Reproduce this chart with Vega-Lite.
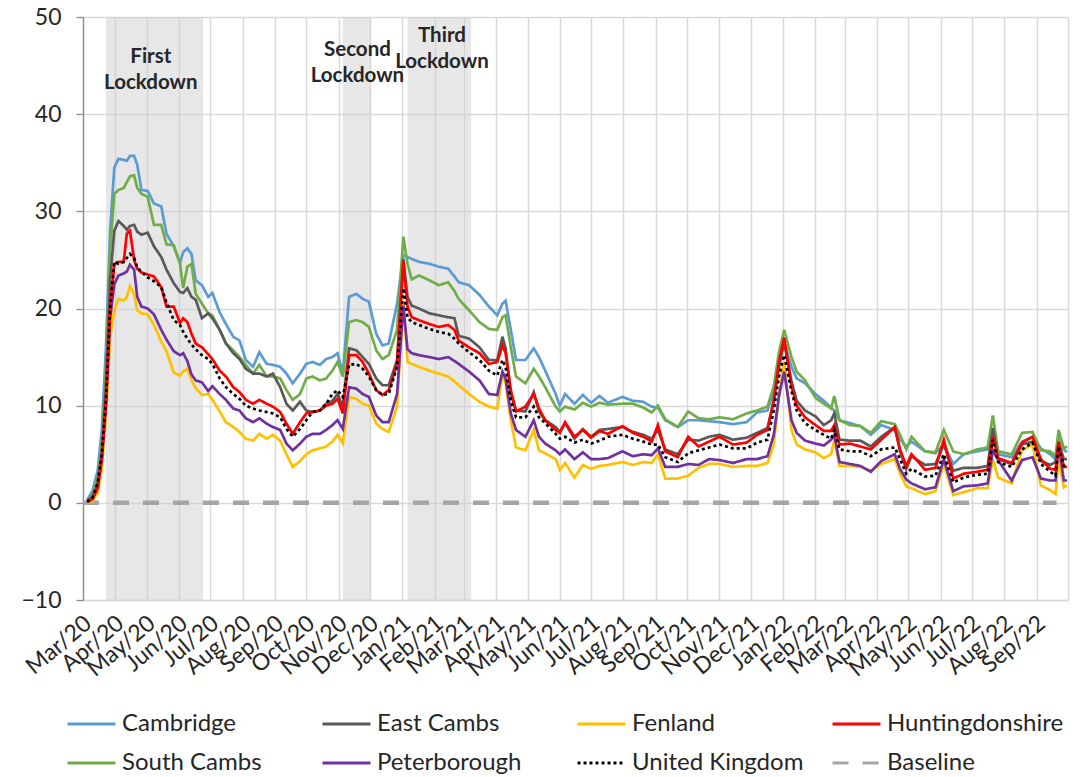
{
  "$schema": "https://vega.github.io/schema/vega-lite/v6.json",
  "width": 985,
  "height": 583,
  "autosize": {"type": "none"},
  "padding": {"left": 83, "top": 17, "right": 13, "bottom": 177},
  "background": "white",
  "config": {"view": {"stroke": null}, "font": "Lato"},
  "datasets": {
    "lockdowns": [
      {"start": "2020-03-23", "end": "2020-06-24"},
      {"start": "2020-11-05", "end": "2020-12-02"},
      {"start": "2021-01-06", "end": "2021-03-08"}
    ],
    "notes": [
      {"date": "2020-05-05", "v": 45.9, "label": "First\nLockdown"},
      {"date": "2020-11-19", "v": 46.6, "label": "Second\nLockdown"},
      {"date": "2021-02-08", "v": 48.0, "label": "Third\nLockdown"}
    ],
    "baseline": [
      {"date": "2020-03-01", "series": "Baseline", "value": 0},
      {"date": "2022-09-20", "series": "Baseline", "value": 0}
    ],
    "series": [
      {"date":"2020-03-05","Cambridge":0.3,"South Cambs":0.2,"East Cambs":0.2,"Huntingdonshire":0.1,"United Kingdom":0.1,"Peterborough":0.1,"Fenland":0},
      {"date":"2020-03-10","Cambridge":1.2,"South Cambs":0.8,"East Cambs":0.6,"Huntingdonshire":0.4,"United Kingdom":0.5,"Peterborough":0.4,"Fenland":0.2},
      {"date":"2020-03-15","Cambridge":3.3,"South Cambs":2.5,"East Cambs":2,"Huntingdonshire":1.5,"United Kingdom":2,"Peterborough":1.5,"Fenland":1},
      {"date":"2020-03-19","Cambridge":7.5,"South Cambs":6,"East Cambs":5,"Huntingdonshire":4.5,"United Kingdom":5,"Peterborough":4.5,"Fenland":3.5},
      {"date":"2020-03-23","Cambridge":16,"South Cambs":14,"East Cambs":12,"Huntingdonshire":10.5,"United Kingdom":10.5,"Peterborough":10,"Fenland":9},
      {"date":"2020-03-27","Cambridge":28,"South Cambs":26,"East Cambs":23,"Huntingdonshire":20,"United Kingdom":20,"Peterborough":19,"Fenland":17},
      {"date":"2020-03-31","Cambridge":34.5,"South Cambs":31.8,"East Cambs":28,"Huntingdonshire":24.6,"United Kingdom":24.8,"Peterborough":22.5,"Fenland":19.8},
      {"date":"2020-04-04","Cambridge":35.4,"South Cambs":32.2,"East Cambs":29,"Huntingdonshire":24.8,"United Kingdom":24.6,"Peterborough":23.4,"Fenland":21},
      {"date":"2020-04-09","Cambridge":35.3,"South Cambs":32.4,"East Cambs":28.5,"Huntingdonshire":24.8,"United Kingdom":24.8,"Peterborough":23.6,"Fenland":20.8},
      {"date":"2020-04-12","Cambridge":35.2,"South Cambs":33,"East Cambs":28.1,"Huntingdonshire":27.7,"United Kingdom":25.2,"Peterborough":23.8,"Fenland":21.2},
      {"date":"2020-04-15","Cambridge":35.7,"South Cambs":33.6,"East Cambs":28.5,"Huntingdonshire":28,"United Kingdom":25.6,"Peterborough":24.5,"Fenland":22.3},
      {"date":"2020-04-19","Cambridge":35.7,"South Cambs":33.7,"East Cambs":28.6,"Huntingdonshire":25,"United Kingdom":25.2,"Peterborough":24,"Fenland":21.5},
      {"date":"2020-04-22","Cambridge":34.8,"South Cambs":32.4,"East Cambs":27.9,"Huntingdonshire":24.1,"United Kingdom":24.2,"Peterborough":21.2,"Fenland":19.8},
      {"date":"2020-04-26","Cambridge":32.2,"South Cambs":31.8,"East Cambs":27.6,"Huntingdonshire":23.7,"United Kingdom":23.8,"Peterborough":20.2,"Fenland":19.5},
      {"date":"2020-05-02","Cambridge":32.1,"South Cambs":31.5,"East Cambs":27.8,"Huntingdonshire":23.5,"United Kingdom":23.2,"Peterborough":20,"Fenland":19.4},
      {"date":"2020-05-08","Cambridge":30.8,"South Cambs":28.6,"East Cambs":26.4,"Huntingdonshire":23.3,"United Kingdom":22.8,"Peterborough":19.4,"Fenland":18.3},
      {"date":"2020-05-15","Cambridge":30.5,"South Cambs":28.6,"East Cambs":25.3,"Huntingdonshire":22.2,"United Kingdom":22.2,"Peterborough":17.8,"Fenland":16.6},
      {"date":"2020-05-20","Cambridge":27.7,"South Cambs":26.6,"East Cambs":24,"Huntingdonshire":20.2,"United Kingdom":20.6,"Peterborough":16.8,"Fenland":15.6},
      {"date":"2020-05-27","Cambridge":26.4,"South Cambs":26.5,"East Cambs":22.6,"Huntingdonshire":20.2,"United Kingdom":18.8,"Peterborough":15.6,"Fenland":13.4},
      {"date":"2020-06-02","Cambridge":24.7,"South Cambs":24.6,"East Cambs":21.7,"Huntingdonshire":18.5,"United Kingdom":18.3,"Peterborough":15.2,"Fenland":13.1},
      {"date":"2020-06-05","Cambridge":25.8,"South Cambs":22.1,"East Cambs":21.6,"Huntingdonshire":19,"United Kingdom":17.6,"Peterborough":15.4,"Fenland":13.5},
      {"date":"2020-06-09","Cambridge":26.2,"South Cambs":24.3,"East Cambs":22.1,"Huntingdonshire":18.6,"United Kingdom":16.9,"Peterborough":14.6,"Fenland":13.8},
      {"date":"2020-06-13","Cambridge":25.6,"South Cambs":24.6,"East Cambs":21.2,"Huntingdonshire":17.4,"United Kingdom":16.3,"Peterborough":13.2,"Fenland":12.6},
      {"date":"2020-06-17","Cambridge":22.9,"South Cambs":21.5,"East Cambs":20.9,"Huntingdonshire":16.4,"United Kingdom":15.8,"Peterborough":12.6,"Fenland":11.8},
      {"date":"2020-06-23","Cambridge":22.4,"South Cambs":20.5,"East Cambs":19,"Huntingdonshire":16,"United Kingdom":15.2,"Peterborough":12.4,"Fenland":11.1},
      {"date":"2020-06-29","Cambridge":21.2,"South Cambs":19.5,"East Cambs":19.5,"Huntingdonshire":15.3,"United Kingdom":14.8,"Peterborough":11.5,"Fenland":11.2},
      {"date":"2020-07-03","Cambridge":21.6,"South Cambs":19.3,"East Cambs":19,"Huntingdonshire":14.8,"United Kingdom":14.3,"Peterborough":12,"Fenland":10.6},
      {"date":"2020-07-10","Cambridge":19.6,"South Cambs":17.8,"East Cambs":17.8,"Huntingdonshire":13.6,"United Kingdom":12.8,"Peterborough":11.2,"Fenland":9.4},
      {"date":"2020-07-16","Cambridge":18.4,"South Cambs":16.4,"East Cambs":16.4,"Huntingdonshire":13,"United Kingdom":11.9,"Peterborough":10.6,"Fenland":8.3},
      {"date":"2020-07-23","Cambridge":17.1,"South Cambs":15.7,"East Cambs":15.4,"Huntingdonshire":11.9,"United Kingdom":11.2,"Peterborough":9.7,"Fenland":7.8},
      {"date":"2020-07-29","Cambridge":16.7,"South Cambs":15,"East Cambs":14.8,"Huntingdonshire":11.4,"United Kingdom":10.7,"Peterborough":9.5,"Fenland":7.3},
      {"date":"2020-08-04","Cambridge":14.7,"South Cambs":14.2,"East Cambs":13.8,"Huntingdonshire":10.6,"United Kingdom":10,"Peterborough":8.7,"Fenland":6.6},
      {"date":"2020-08-11","Cambridge":14,"South Cambs":13.3,"East Cambs":13.3,"Huntingdonshire":10.2,"United Kingdom":9.7,"Peterborough":8.3,"Fenland":6.4},
      {"date":"2020-08-17","Cambridge":15.5,"South Cambs":14.2,"East Cambs":13.3,"Huntingdonshire":10.6,"United Kingdom":9.5,"Peterborough":8.7,"Fenland":7.1},
      {"date":"2020-08-24","Cambridge":14.3,"South Cambs":13,"East Cambs":13,"Huntingdonshire":10.2,"United Kingdom":9.35,"Peterborough":8.15,"Fenland":6.6},
      {"date":"2020-08-30","Cambridge":14.2,"South Cambs":13,"East Cambs":13.3,"Huntingdonshire":9.9,"United Kingdom":9.2,"Peterborough":7.8,"Fenland":7},
      {"date":"2020-09-06","Cambridge":14,"South Cambs":12.8,"East Cambs":11.9,"Huntingdonshire":9.35,"United Kingdom":8.8,"Peterborough":7.5,"Fenland":6.4},
      {"date":"2020-09-12","Cambridge":13.3,"South Cambs":11.6,"East Cambs":10.2,"Huntingdonshire":8.15,"United Kingdom":7.6,"Peterborough":6.1,"Fenland":5},
      {"date":"2020-09-18","Cambridge":12.3,"South Cambs":10.6,"East Cambs":9.5,"Huntingdonshire":7.1,"United Kingdom":6.8,"Peterborough":5.4,"Fenland":3.7},
      {"date":"2020-09-25","Cambridge":13.3,"South Cambs":11.2,"East Cambs":10.4,"Huntingdonshire":8.3,"United Kingdom":7.6,"Peterborough":6.1,"Fenland":4.3},
      {"date":"2020-10-01","Cambridge":14.3,"South Cambs":12.8,"East Cambs":9.5,"Huntingdonshire":9.2,"United Kingdom":8.5,"Peterborough":6.8,"Fenland":5},
      {"date":"2020-10-07","Cambridge":14.5,"South Cambs":13,"East Cambs":9.35,"Huntingdonshire":9.35,"United Kingdom":9.35,"Peterborough":7.1,"Fenland":5.4},
      {"date":"2020-10-14","Cambridge":14.2,"South Cambs":12.6,"East Cambs":9.5,"Huntingdonshire":9.5,"United Kingdom":9.5,"Peterborough":7.1,"Fenland":5.6},
      {"date":"2020-10-20","Cambridge":14.8,"South Cambs":12.8,"East Cambs":10.2,"Huntingdonshire":10,"United Kingdom":10.2,"Peterborough":7.5,"Fenland":5.8},
      {"date":"2020-10-26","Cambridge":15,"South Cambs":13.6,"East Cambs":10.5,"Huntingdonshire":10.2,"United Kingdom":11.2,"Peterborough":8,"Fenland":6.3},
      {"date":"2020-10-31","Cambridge":15.4,"South Cambs":14.5,"East Cambs":11.2,"Huntingdonshire":10.7,"United Kingdom":11.6,"Peterborough":8.5,"Fenland":7},
      {"date":"2020-11-05","Cambridge":13.3,"South Cambs":13,"East Cambs":9.9,"Huntingdonshire":9.2,"United Kingdom":10.9,"Peterborough":7.6,"Fenland":6.1},
      {"date":"2020-11-11","Cambridge":21.2,"South Cambs":18.6,"East Cambs":15.9,"Huntingdonshire":15.2,"United Kingdom":14.2,"Peterborough":11.9,"Fenland":10.9},
      {"date":"2020-11-18","Cambridge":21.5,"South Cambs":18.8,"East Cambs":15.7,"Huntingdonshire":15.2,"United Kingdom":14.3,"Peterborough":11.75,"Fenland":10.7},
      {"date":"2020-11-24","Cambridge":21,"South Cambs":18.6,"East Cambs":15,"Huntingdonshire":14.5,"United Kingdom":13.8,"Peterborough":11.2,"Fenland":10.2},
      {"date":"2020-11-30","Cambridge":20.7,"South Cambs":18.1,"East Cambs":14.3,"Huntingdonshire":13.3,"United Kingdom":13,"Peterborough":10.9,"Fenland":10},
      {"date":"2020-12-07","Cambridge":17.4,"South Cambs":15.7,"East Cambs":12.8,"Huntingdonshire":11.6,"United Kingdom":11.6,"Peterborough":9,"Fenland":8.15},
      {"date":"2020-12-13","Cambridge":16.2,"South Cambs":14.8,"East Cambs":12.1,"Huntingdonshire":11.1,"United Kingdom":11.1,"Peterborough":8.3,"Fenland":7.6},
      {"date":"2020-12-19","Cambridge":16.4,"South Cambs":15.2,"East Cambs":12.1,"Huntingdonshire":11.6,"United Kingdom":11.2,"Peterborough":8.3,"Fenland":7.3},
      {"date":"2020-12-27","Cambridge":20.5,"South Cambs":17.8,"East Cambs":14.7,"Huntingdonshire":14.3,"United Kingdom":14,"Peterborough":11.2,"Fenland":9.9},
      {"date":"2021-01-02","Cambridge":25.5,"South Cambs":27.4,"East Cambs":25.1,"Huntingdonshire":24.8,"United Kingdom":22.1,"Peterborough":20.3,"Fenland":20.8},
      {"date":"2021-01-06","Cambridge":25.3,"South Cambs":24.6,"East Cambs":21.2,"Huntingdonshire":20.2,"United Kingdom":19.1,"Peterborough":15.8,"Fenland":14.5},
      {"date":"2021-01-10","Cambridge":25.1,"South Cambs":23,"East Cambs":20.3,"Huntingdonshire":19.1,"United Kingdom":18.6,"Peterborough":15.4,"Fenland":14.3},
      {"date":"2021-01-17","Cambridge":24.8,"South Cambs":23.4,"East Cambs":20,"Huntingdonshire":18.8,"United Kingdom":18.3,"Peterborough":15.2,"Fenland":14},
      {"date":"2021-01-27","Cambridge":24.6,"South Cambs":22.9,"East Cambs":19.5,"Huntingdonshire":18.4,"United Kingdom":17.9,"Peterborough":15,"Fenland":13.6},
      {"date":"2021-02-05","Cambridge":24.3,"South Cambs":22.4,"East Cambs":19.3,"Huntingdonshire":18.1,"United Kingdom":17.6,"Peterborough":14.8,"Fenland":13.3},
      {"date":"2021-02-14","Cambridge":24.1,"South Cambs":22.7,"East Cambs":19.1,"Huntingdonshire":18.3,"United Kingdom":17.4,"Peterborough":15,"Fenland":13},
      {"date":"2021-02-20","Cambridge":23.3,"South Cambs":21.8,"East Cambs":19,"Huntingdonshire":17.8,"United Kingdom":16.9,"Peterborough":14.6,"Fenland":12.5},
      {"date":"2021-02-24","Cambridge":22.7,"South Cambs":21,"East Cambs":17.2,"Huntingdonshire":16.7,"United Kingdom":16.4,"Peterborough":14.3,"Fenland":12.1},
      {"date":"2021-03-06","Cambridge":22.4,"South Cambs":19.8,"East Cambs":16.9,"Huntingdonshire":16,"United Kingdom":15.5,"Peterborough":13.5,"Fenland":11.2},
      {"date":"2021-03-16","Cambridge":21.4,"South Cambs":18.6,"East Cambs":16,"Huntingdonshire":15.4,"United Kingdom":14.7,"Peterborough":12.6,"Fenland":10.4},
      {"date":"2021-03-25","Cambridge":20.2,"South Cambs":17.9,"East Cambs":14.7,"Huntingdonshire":14.3,"United Kingdom":13.6,"Peterborough":11.2,"Fenland":9.9},
      {"date":"2021-04-02","Cambridge":19.3,"South Cambs":17.8,"East Cambs":14.7,"Huntingdonshire":14.5,"United Kingdom":13.1,"Peterborough":11.1,"Fenland":9.7},
      {"date":"2021-04-07","Cambridge":20.5,"South Cambs":19.1,"East Cambs":17.1,"Huntingdonshire":16.2,"United Kingdom":14.7,"Peterborough":13.5,"Fenland":13.3},
      {"date":"2021-04-10","Cambridge":20.8,"South Cambs":19.3,"East Cambs":15.9,"Huntingdonshire":15.4,"United Kingdom":14,"Peterborough":12.8,"Fenland":12.3},
      {"date":"2021-04-15","Cambridge":17.8,"South Cambs":16,"East Cambs":11.2,"Huntingdonshire":11.6,"United Kingdom":10.5,"Peterborough":9.2,"Fenland":8.5},
      {"date":"2021-04-20","Cambridge":14.7,"South Cambs":13,"East Cambs":9.5,"Huntingdonshire":9.4,"United Kingdom":8.8,"Peterborough":7.5,"Fenland":5.7},
      {"date":"2021-04-29","Cambridge":14.7,"South Cambs":12.3,"East Cambs":9.4,"Huntingdonshire":9.9,"United Kingdom":8.8,"Peterborough":6.8,"Fenland":5.4},
      {"date":"2021-05-07","Cambridge":15.9,"South Cambs":13.8,"East Cambs":11.4,"Huntingdonshire":11.2,"United Kingdom":9.9,"Peterborough":8.5,"Fenland":7.5},
      {"date":"2021-05-12","Cambridge":15,"South Cambs":13,"East Cambs":9.4,"Huntingdonshire":9.7,"United Kingdom":8.8,"Peterborough":6.8,"Fenland":5.4},
      {"date":"2021-05-18","Cambridge":13.6,"South Cambs":11.9,"East Cambs":8.5,"Huntingdonshire":8.5,"United Kingdom":8.2,"Peterborough":6.1,"Fenland":5.1},
      {"date":"2021-05-28","Cambridge":11.2,"South Cambs":9.9,"East Cambs":7.8,"Huntingdonshire":7.5,"United Kingdom":7.1,"Peterborough":5.4,"Fenland":4.5},
      {"date":"2021-06-01","Cambridge":10,"South Cambs":9.4,"East Cambs":7.3,"Huntingdonshire":7.2,"United Kingdom":6.6,"Peterborough":5,"Fenland":3.4},
      {"date":"2021-06-06","Cambridge":11.2,"South Cambs":9.9,"East Cambs":8.2,"Huntingdonshire":8.3,"United Kingdom":6.8,"Peterborough":5.5,"Fenland":4.1},
      {"date":"2021-06-15","Cambridge":10.2,"South Cambs":9.6,"East Cambs":6.6,"Huntingdonshire":6.8,"United Kingdom":6.2,"Peterborough":4.5,"Fenland":2.6},
      {"date":"2021-06-23","Cambridge":11.1,"South Cambs":10.3,"East Cambs":7.6,"Huntingdonshire":7.5,"United Kingdom":6.5,"Peterborough":5.2,"Fenland":3.9},
      {"date":"2021-07-01","Cambridge":10.3,"South Cambs":9.9,"East Cambs":6.8,"Huntingdonshire":6.7,"United Kingdom":6.1,"Peterborough":4.5,"Fenland":3.5},
      {"date":"2021-07-09","Cambridge":11,"South Cambs":10.3,"East Cambs":7.5,"Huntingdonshire":7.4,"United Kingdom":6.4,"Peterborough":4.5,"Fenland":3.8},
      {"date":"2021-07-17","Cambridge":10.3,"South Cambs":10.1,"East Cambs":7.6,"Huntingdonshire":7.1,"United Kingdom":6.8,"Peterborough":4.6,"Fenland":3.9},
      {"date":"2021-07-31","Cambridge":10.9,"South Cambs":10.2,"East Cambs":7.8,"Huntingdonshire":7.9,"United Kingdom":7,"Peterborough":5.3,"Fenland":4.2},
      {"date":"2021-08-10","Cambridge":10.5,"South Cambs":10.2,"East Cambs":7.3,"Huntingdonshire":7.2,"United Kingdom":6.6,"Peterborough":4.8,"Fenland":3.9},
      {"date":"2021-08-20","Cambridge":10.4,"South Cambs":9.8,"East Cambs":7,"Huntingdonshire":6.8,"United Kingdom":6.3,"Peterborough":5,"Fenland":4.2},
      {"date":"2021-08-28","Cambridge":9.9,"South Cambs":9.3,"East Cambs":6.6,"Huntingdonshire":6.3,"United Kingdom":6,"Peterborough":4.9,"Fenland":4.1},
      {"date":"2021-09-03","Cambridge":9.8,"South Cambs":10,"East Cambs":7.5,"Huntingdonshire":8,"United Kingdom":6,"Peterborough":5.6,"Fenland":5},
      {"date":"2021-09-10","Cambridge":8.5,"South Cambs":8.6,"East Cambs":5.5,"Huntingdonshire":5.3,"United Kingdom":4.7,"Peterborough":3.7,"Fenland":2.5},
      {"date":"2021-09-22","Cambridge":7.8,"South Cambs":7.8,"East Cambs":5,"Huntingdonshire":4.7,"United Kingdom":4.2,"Peterborough":3.7,"Fenland":2.5},
      {"date":"2021-10-02","Cambridge":8.5,"South Cambs":9.4,"East Cambs":6.5,"Huntingdonshire":6.8,"United Kingdom":5.1,"Peterborough":4,"Fenland":2.8},
      {"date":"2021-10-12","Cambridge":8.5,"South Cambs":8.7,"East Cambs":6.4,"Huntingdonshire":5.8,"United Kingdom":5.4,"Peterborough":3.9,"Fenland":3.6},
      {"date":"2021-10-22","Cambridge":8.4,"South Cambs":8.6,"East Cambs":6.8,"Huntingdonshire":6.3,"United Kingdom":5.7,"Peterborough":4.5,"Fenland":4},
      {"date":"2021-11-01","Cambridge":8.3,"South Cambs":8.8,"East Cambs":7,"Huntingdonshire":6.8,"United Kingdom":6,"Peterborough":4.4,"Fenland":4},
      {"date":"2021-11-14","Cambridge":8.1,"South Cambs":8.6,"East Cambs":6.5,"Huntingdonshire":6,"United Kingdom":5.6,"Peterborough":4.1,"Fenland":3.7},
      {"date":"2021-11-27","Cambridge":8.3,"South Cambs":9.2,"East Cambs":6.7,"Huntingdonshire":6.2,"United Kingdom":5.6,"Peterborough":4.5,"Fenland":3.8},
      {"date":"2021-12-07","Cambridge":9.3,"South Cambs":9.5,"East Cambs":7.2,"Huntingdonshire":7,"United Kingdom":6.2,"Peterborough":4.5,"Fenland":3.8},
      {"date":"2021-12-17","Cambridge":9.5,"South Cambs":9.9,"East Cambs":7.7,"Huntingdonshire":7.5,"United Kingdom":6.5,"Peterborough":4.8,"Fenland":4.1},
      {"date":"2021-12-23","Cambridge":11.5,"South Cambs":12,"East Cambs":10.5,"Huntingdonshire":10.5,"United Kingdom":9.5,"Peterborough":7,"Fenland":6},
      {"date":"2021-12-28","Cambridge":14.5,"South Cambs":15.5,"East Cambs":14,"Huntingdonshire":14.5,"United Kingdom":13,"Peterborough":11,"Fenland":11},
      {"date":"2022-01-02","Cambridge":16.5,"South Cambs":17.8,"East Cambs":16.5,"Huntingdonshire":17,"United Kingdom":15.2,"Peterborough":13.5,"Fenland":14.5},
      {"date":"2022-01-09","Cambridge":14,"South Cambs":15,"East Cambs":12.5,"Huntingdonshire":12,"United Kingdom":11.5,"Peterborough":8.5,"Fenland":7.5},
      {"date":"2022-01-14","Cambridge":12.8,"South Cambs":13.5,"East Cambs":10.5,"Huntingdonshire":10,"United Kingdom":9.5,"Peterborough":7.2,"Fenland":6},
      {"date":"2022-01-22","Cambridge":12.3,"South Cambs":12.6,"East Cambs":9.5,"Huntingdonshire":8.8,"United Kingdom":8.2,"Peterborough":6.4,"Fenland":5.5},
      {"date":"2022-02-01","Cambridge":11.2,"South Cambs":10.8,"East Cambs":8.9,"Huntingdonshire":8,"United Kingdom":7.5,"Peterborough":6.1,"Fenland":5.2},
      {"date":"2022-02-09","Cambridge":10.5,"South Cambs":10.2,"East Cambs":8,"Huntingdonshire":7.4,"United Kingdom":7,"Peterborough":5.9,"Fenland":4.6},
      {"date":"2022-02-16","Cambridge":9.8,"South Cambs":9.7,"East Cambs":8.5,"Huntingdonshire":7.4,"United Kingdom":6.6,"Peterborough":6.5,"Fenland":5},
      {"date":"2022-02-19","Cambridge":9.5,"South Cambs":11,"East Cambs":9.2,"Huntingdonshire":8,"United Kingdom":7.5,"Peterborough":7,"Fenland":6.5},
      {"date":"2022-02-24","Cambridge":8.5,"South Cambs":8.5,"East Cambs":6.5,"Huntingdonshire":6,"United Kingdom":5.5,"Peterborough":4.2,"Fenland":3.8},
      {"date":"2022-03-06","Cambridge":8.2,"South Cambs":8,"East Cambs":6.4,"Huntingdonshire":6.1,"United Kingdom":5.3,"Peterborough":4,"Fenland":3.8},
      {"date":"2022-03-16","Cambridge":7.9,"South Cambs":7.9,"East Cambs":6.4,"Huntingdonshire":5.8,"United Kingdom":5.3,"Peterborough":3.8,"Fenland":3.7},
      {"date":"2022-03-26","Cambridge":7,"South Cambs":7.2,"East Cambs":5.8,"Huntingdonshire":5.5,"United Kingdom":4.8,"Peterborough":3.2,"Fenland":3.3},
      {"date":"2022-04-05","Cambridge":8,"South Cambs":8.4,"East Cambs":6.8,"Huntingdonshire":6.5,"United Kingdom":5.5,"Peterborough":4.3,"Fenland":4},
      {"date":"2022-04-18","Cambridge":7.5,"South Cambs":8.1,"East Cambs":7.8,"Huntingdonshire":7.8,"United Kingdom":5.7,"Peterborough":5,"Fenland":4.5},
      {"date":"2022-04-23","Cambridge":6.5,"South Cambs":7,"East Cambs":5.3,"Huntingdonshire":5.5,"United Kingdom":4.5,"Peterborough":3.5,"Fenland":3},
      {"date":"2022-04-29","Cambridge":5.8,"South Cambs":5.5,"East Cambs":3.5,"Huntingdonshire":3.8,"United Kingdom":3,"Peterborough":2.4,"Fenland":1.7},
      {"date":"2022-05-04","Cambridge":6.3,"South Cambs":6.8,"East Cambs":4.8,"Huntingdonshire":5,"United Kingdom":3.5,"Peterborough":2,"Fenland":1.5},
      {"date":"2022-05-17","Cambridge":5.3,"South Cambs":5.3,"East Cambs":3.9,"Huntingdonshire":3.4,"United Kingdom":2.7,"Peterborough":1.4,"Fenland":0.9},
      {"date":"2022-05-27","Cambridge":5.1,"South Cambs":5.2,"East Cambs":4,"Huntingdonshire":3.6,"United Kingdom":2.8,"Peterborough":1.6,"Fenland":1.2},
      {"date":"2022-06-04","Cambridge":6,"South Cambs":7.5,"East Cambs":6,"Huntingdonshire":6.5,"United Kingdom":5,"Peterborough":4.5,"Fenland":4},
      {"date":"2022-06-13","Cambridge":4,"South Cambs":5.3,"East Cambs":3.3,"Huntingdonshire":2.5,"United Kingdom":2.1,"Peterborough":1.2,"Fenland":0.8},
      {"date":"2022-06-23","Cambridge":5,"South Cambs":5,"East Cambs":3.6,"Huntingdonshire":3,"United Kingdom":2.6,"Peterborough":1.7,"Fenland":1.1},
      {"date":"2022-07-06","Cambridge":5.3,"South Cambs":5.5,"East Cambs":3.6,"Huntingdonshire":3.2,"United Kingdom":2.9,"Peterborough":1.8,"Fenland":1.5},
      {"date":"2022-07-16","Cambridge":5.5,"South Cambs":5.7,"East Cambs":3.8,"Huntingdonshire":3.4,"United Kingdom":3,"Peterborough":2,"Fenland":1.5},
      {"date":"2022-07-21","Cambridge":7.5,"South Cambs":9,"East Cambs":7.7,"Huntingdonshire":6.8,"United Kingdom":6.5,"Peterborough":5.4,"Fenland":4.5},
      {"date":"2022-07-26","Cambridge":5,"South Cambs":5.3,"East Cambs":4.5,"Huntingdonshire":4.6,"United Kingdom":4.2,"Peterborough":4.4,"Fenland":2.6},
      {"date":"2022-08-08","Cambridge":4.7,"South Cambs":5,"East Cambs":4,"Huntingdonshire":4.1,"United Kingdom":3.7,"Peterborough":2.3,"Fenland":2},
      {"date":"2022-08-18","Cambridge":6.3,"South Cambs":7.2,"East Cambs":6,"Huntingdonshire":6.2,"United Kingdom":5.5,"Peterborough":4.4,"Fenland":5.4},
      {"date":"2022-08-28","Cambridge":6.8,"South Cambs":7.3,"East Cambs":6.3,"Huntingdonshire":6.8,"United Kingdom":6.2,"Peterborough":4.7,"Fenland":6},
      {"date":"2022-09-05","Cambridge":5.6,"South Cambs":5.4,"East Cambs":4.3,"Huntingdonshire":4.5,"United Kingdom":4,"Peterborough":2.5,"Fenland":1.8},
      {"date":"2022-09-14","Cambridge":5,"South Cambs":5.3,"East Cambs":3.9,"Huntingdonshire":3.5,"United Kingdom":3.2,"Peterborough":2.3,"Fenland":1.3},
      {"date":"2022-09-19","Cambridge":4.5,"South Cambs":4.8,"East Cambs":4.2,"Huntingdonshire":3.4,"United Kingdom":2.8,"Peterborough":2.3,"Fenland":0.9},
      {"date":"2022-09-22","Cambridge":7,"South Cambs":7.5,"East Cambs":6.2,"Huntingdonshire":6.3,"United Kingdom":5.8,"Peterborough":6,"Fenland":4.5},
      {"date":"2022-09-27","Cambridge":5.5,"South Cambs":5.6,"East Cambs":4.5,"Huntingdonshire":3.7,"United Kingdom":3.8,"Peterborough":2.3,"Fenland":1.6},
      {"date":"2022-09-30","Cambridge":5.2,"South Cambs":5.8,"East Cambs":4.5,"Huntingdonshire":3.7,"United Kingdom":3.8,"Peterborough":2.3,"Fenland":1.8}
    ]
  },
  "layer": [
    {
      "data": {"name": "lockdowns"},
      "mark": {"type": "rect", "fill": "#cfcfcf", "opacity": 0.5},
      "encoding": {
        "x": {
          "field": "start", "type": "temporal", "title": null,
          "scale": {"domain": [{"year": 2020, "month": 3, "date": 1}, {"year": 2022, "month": 10, "date": 1}], "nice": false},
          "axis": {
            "tickCount": {"interval": "month", "step": 1},
            "labelExpr": "timeFormat(datum.value, '%b/%y') == 'Oct/22' ? '' : timeFormat(datum.value, '%b/%y')",
            "labelAngle": -40, "labelAlign": "right", "labelBaseline": "middle",
            "labelPadding": 20, "labelOffset": 5,
            "labelFont": "Lato", "labelFontSize": 23, "labelColor": "#262626",
            "labelOverlap": false, "labelFlush": false,
            "ticks": false, "grid": true, "gridColor": "#D9D9D9", "gridWidth": 1.5,
            "domainColor": "#D9D9D9", "domainWidth": 1.5
          }
        },
        "x2": {"field": "end"}
      }
    },
    {
      "data": {"name": "baseline"},
      "mark": {"type": "line", "strokeWidth": 4.5},
      "encoding": {
        "x": {"field": "date", "type": "temporal"},
        "y": {"field": "value", "type": "quantitative", "title": null},
        "color": {"field": "series", "type": "nominal"},
        "strokeDash": {"field": "series", "type": "nominal"}
      }
    },
    {
      "data": {"name": "series"},
      "transform": [
        {"fold": ["Cambridge", "South Cambs", "East Cambs", "Fenland", "Peterborough", "Huntingdonshire", "United Kingdom"], "as": ["series", "value"]}
      ],
      "mark": {"type": "line", "strokeWidth": 2.7},
      "encoding": {
        "x": {"field": "date", "type": "temporal"},
        "y": {
          "field": "value", "type": "quantitative", "title": null,
          "scale": {"domain": [-10, 50], "nice": false, "zero": false},
          "axis": {
            "values": [-10, 0, 10, 20, 30, 40, 50],
            "labelFont": "Lato", "labelFontSize": 23, "labelColor": "#262626",
            "labelPadding": 15, "labelFlush": false,
            "tickSize": 7, "tickColor": "#8C8C8C", "tickWidth": 1.3,
            "domainColor": "#8C8C8C", "domainWidth": 1.3,
            "grid": true, "gridColor": "#D9D9D9", "gridWidth": 1.5
          }
        },
        "color": {
          "field": "series", "type": "nominal",
          "scale": {
            "domain": ["Cambridge", "East Cambs", "Fenland", "Huntingdonshire", "South Cambs", "Peterborough", "United Kingdom", "Baseline"],
            "range": ["#5B9BD5", "#595959", "#FFC000", "#FF0000", "#70AD47", "#7030A0", "#000000", "#A5A5A5"]
          },
          "legend": {
            "title": null, "orient": "none", "legendX": -17, "legendY": 695,
            "direction": "horizontal", "columns": 4, "gridAlign": "all",
            "columnPadding": 22, "rowPadding": 15, "padding": 0,
            "symbolType": "stroke", "symbolSize": 2304, "symbolStrokeWidth": 3, "clipHeight": 24,
            "labelFont": "Lato", "labelFontSize": 24, "labelColor": "#262626",
            "labelOffset": 5, "labelLimit": 300
          }
        },
        "strokeDash": {
          "field": "series", "type": "nominal",
          "scale": {
            "domain": ["Cambridge", "East Cambs", "Fenland", "Huntingdonshire", "South Cambs", "Peterborough", "United Kingdom", "Baseline"],
            "range": [[1, 0], [1, 0], [1, 0], [1, 0], [1, 0], [1, 0], [3, 3], [16, 14]]
          }
        }
      }
    },
    {
      "data": {"name": "notes"},
      "mark": {"type": "text", "font": "Lato", "fontWeight": "bold", "fontSize": 20.5, "lineBreak": "\n", "lineHeight": 26, "align": "center", "baseline": "middle", "color": "#262626"},
      "encoding": {
        "x": {"field": "date", "type": "temporal"},
        "y": {"field": "v", "type": "quantitative", "title": null},
        "text": {"field": "label"}
      }
    }
  ]
}
